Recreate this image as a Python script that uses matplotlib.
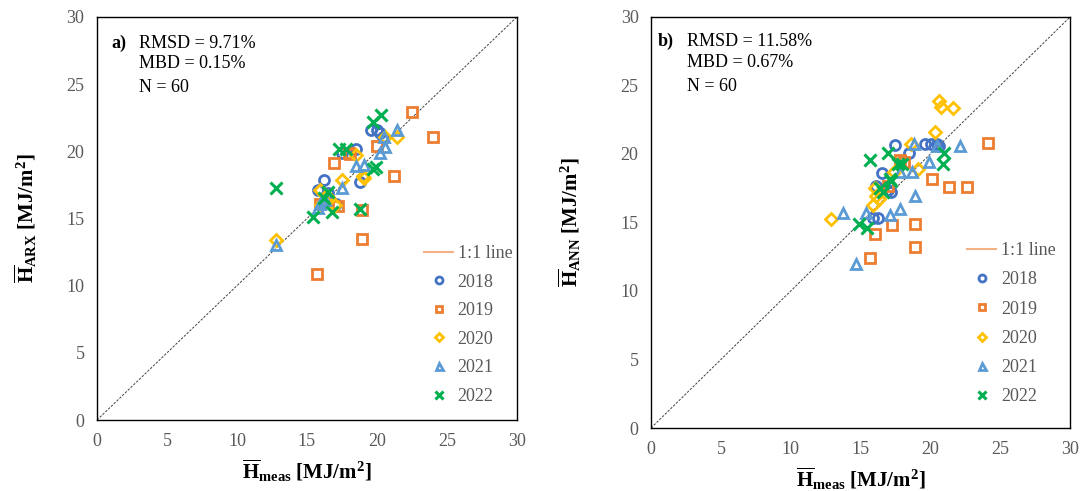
import matplotlib
matplotlib.use("Agg")
import matplotlib.pyplot as plt
from matplotlib.lines import Line2D

plt.rcParams["font.family"] = ["Liberation Serif", "DejaVu Serif"]
plt.rcParams["mathtext.fontset"] = "custom"
plt.rcParams["mathtext.rm"] = "Liberation Serif"
plt.rcParams["mathtext.bf"] = "Liberation Serif:bold"
plt.rcParams["mathtext.it"] = "Liberation Serif:italic"

years = ["2018", "2019", "2020", "2021", "2022"]
colors = ["#4472C4", "#ED7D31", "#FFC000", "#5B9BD5", "#00B050"]
markers = ["o", "s", "D", "^", "x"]

# Panel a) ARX model: measured vs. estimated mean daily irradiation
arx_meas = {
    "2018": [19.6, 20.0, 20.4, 17.5, 18.5, 18.8, 16.2, 15.8, 17.1, 16.5, 20.2, 16.3],
    "2019": [22.5, 24.0, 20.0, 18.0, 18.1, 16.9, 21.2, 17.2, 18.9, 18.9, 15.7, 15.9],
    "2020": [21.45, 20.6, 18.5, 17.5, 19.0, 15.9, 12.8, 16.3, 16.0, 19.1, 17.0, 16.5],
    "2021": [21.45, 20.5, 20.6, 20.2, 19.1, 18.5, 17.5, 15.9, 16.1, 16.3, 12.8, 15.8],
    "2022": [20.3, 19.7, 17.3, 17.8, 19.7, 19.9, 16.5, 12.8, 15.45, 16.8, 18.8, 16.2],
}
arx_est = {
    "2018": [21.6, 21.6, 21.1, 19.9, 20.2, 17.7, 17.9, 17.1, 16.1, 16.9, 21.4, 16.3],
    "2019": [22.9, 21.1, 20.4, 19.9, 19.8, 19.1, 18.2, 15.9, 15.6, 13.45, 10.9, 16.1],
    "2020": [21.1, 21.1, 19.7, 17.9, 18.2, 17.1, 13.4, 16.3, 16.0, 18.0, 16.0, 16.6],
    "2021": [21.6, 21.1, 20.3, 19.85, 19.0, 18.9, 17.25, 16.1, 16.3, 16.4, 13.0, 15.8],
    "2022": [22.7, 22.15, 20.15, 20.15, 18.7, 18.8, 17.0, 17.3, 15.1, 15.45, 15.7, 16.5],
}

# Panel b) ANN model
ann_meas = {
    "2018": [17.5, 19.6, 20.05, 20.45, 18.5, 16.5, 16.1, 17.15, 16.25, 15.9, 17.0, 20.6],
    "2019": [24.1, 17.8, 18.1, 20.1, 21.3, 22.6, 17.0, 17.25, 18.9, 16.0, 18.9, 15.65],
    "2020": [20.65, 20.75, 21.6, 20.3, 18.6, 19.1, 16.0, 16.1, 15.9, 12.85, 16.3, 17.4],
    "2021": [18.85, 20.5, 22.1, 19.9, 18.7, 17.8, 18.9, 17.8, 17.1, 15.4, 13.75, 14.7],
    "2022": [16.95, 15.7, 21.0, 20.9, 17.65, 18.0, 17.1, 16.6, 16.4, 14.9, 15.45, 17.2],
}
ann_est = {
    "2018": [20.65, 20.7, 20.7, 20.7, 20.05, 18.6, 17.7, 17.2, 15.3, 15.3, 17.4, 20.6],
    "2019": [20.8, 19.55, 19.4, 18.15, 17.6, 17.6, 17.65, 14.8, 14.9, 14.15, 13.2, 12.4],
    "2020": [23.9, 23.4, 23.35, 21.6, 20.7, 18.9, 17.55, 16.9, 16.3, 15.25, 16.7, 18.7],
    "2021": [20.7, 20.55, 20.55, 19.45, 18.65, 18.7, 16.9, 16.0, 15.55, 15.7, 15.7, 12.0],
    "2022": [20.05, 19.55, 20.05, 19.3, 19.3, 19.25, 18.15, 17.25, 17.5, 14.9, 14.6, 18.0],
}

ticks = [0, 5, 10, 15, 20, 25, 30]
stats_a = ["RMSD = 9.71%", "MBD = 0.15%", "N = 60"]
stats_b = ["RMSD = 11.58%", "MBD = 0.67%", "N = 60"]

fig = plt.figure(figsize=(10.92, 4.91), dpi=100)
ax1 = fig.add_axes([0.0888, 0.1446, 0.3846, 0.8208])
ax2 = fig.add_axes([0.5962, 0.1283, 0.3837, 0.8371])

tick_col = "#595959"


def draw_panel(ax, meas, est, tag, stats, ylab, ylabpad, legend_anchor,
               leg_spacing, tag_x, text_x, text_y):
    ax.plot([0, 30], [0, 30], color="#404040", lw=0.7, ls=(0, (2.5, 1.5)), zorder=1)
    for yr, c, m in zip(years, colors, markers):
        if m == "x":
            ax.plot(meas[yr], est[yr], ls="none", marker=m, ms=8, mew=2.2,
                    color=c, label=yr, zorder=3)
        else:
            ms = {"o": 7.2, "s": 6.8, "D": 6.2, "^": 7.2}[m]
            ax.plot(meas[yr], est[yr], ls="none", marker=m, ms=ms, mew=2.0,
                    mfc="none", mec=c, label=yr, zorder=3)
    ax.set_xlim(0, 30)
    ax.set_ylim(0, 30)
    ax.set_xticks(ticks)
    ax.set_yticks(ticks)
    ax.tick_params(length=0, labelsize=13, labelcolor=tick_col, pad=9)
    for sp in ax.spines.values():
        sp.set_color("black")
        sp.set_linewidth(1.0)
    ax.set_xlabel(r"$\overline{\mathbf{H}}_{\mathbf{meas}}$ $\mathbf{[MJ/m^2]}$",
                  fontsize=15, labelpad=6)
    ax.set_ylabel(ylab, fontsize=15, labelpad=ylabpad)
    ax.text(tag_x, text_y[0], tag, transform=ax.transAxes, fontsize=13,
            fontweight="bold", va="center")
    for s, yy in zip(stats, text_y):
        ax.text(text_x, yy, s, transform=ax.transAxes, fontsize=13, va="center")

    handles, labels = ax.get_legend_handles_labels()
    ref = Line2D([0], [0], color="#F4B183", lw=1.5)
    leg = ax.legend([ref] + handles, ["1:1 line"] + labels, loc="upper left",
                    bbox_to_anchor=legend_anchor, frameon=False, fontsize=13,
                    handlelength=1.6, handletextpad=0.25, labelspacing=leg_spacing,
                    borderaxespad=0, markerscale=0.7)
    for t in leg.get_texts():
        t.set_color(tick_col)


draw_panel(ax1, arx_meas, arx_est, "a)", stats_a,
           r"$\overline{\mathbf{H}}_{\mathbf{ARX}}$ $\mathbf{[MJ/m^2]}$", 20,
           (0.762, 0.452), 0.64, 0.035, 0.10, [0.935, 0.885, 0.826])
draw_panel(ax2, ann_meas, ann_est, "b)", stats_b,
           r"$\overline{\mathbf{H}}_{\mathbf{ANN}}$ $\mathbf{[MJ/m^2]}$", 27,
           (0.738, 0.47), 0.68, 0.015, 0.085, [0.94, 0.89, 0.83])

fig.savefig("out.png", dpi=100)
